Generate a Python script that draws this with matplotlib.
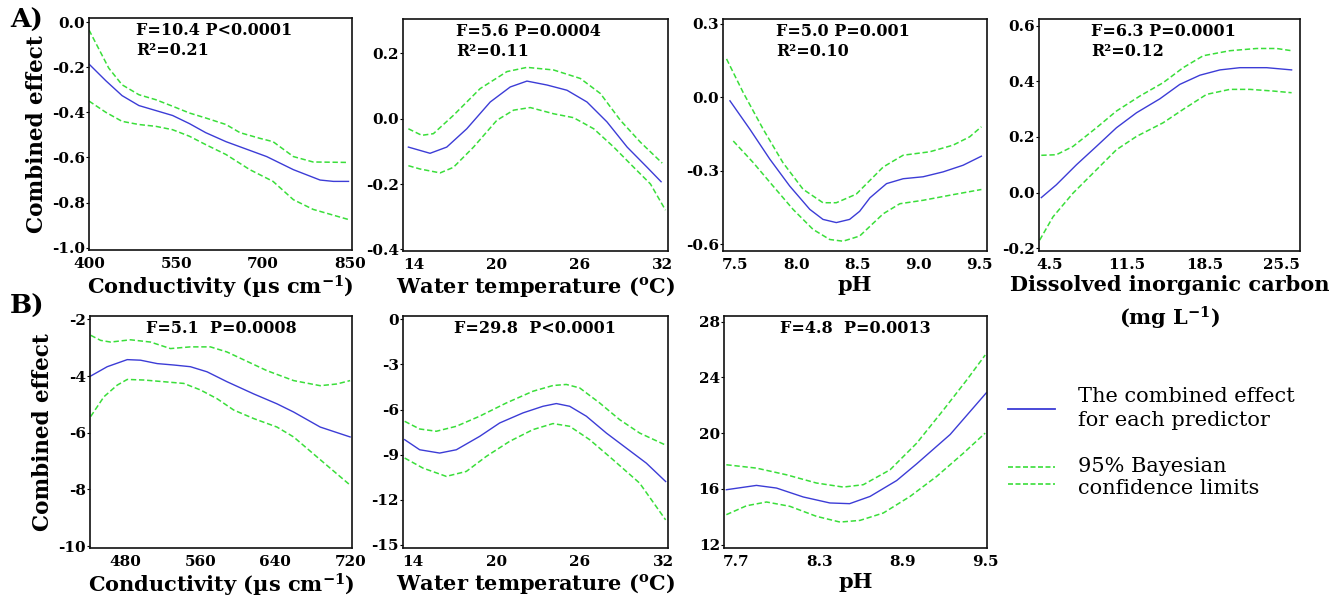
import matplotlib
matplotlib.use("Agg")
import matplotlib.pyplot as plt
from matplotlib.lines import Line2D

plt.rcParams['font.family'] = ['DejaVu Serif']
plt.rcParams['mathtext.fontset'] = 'dejavuserif'
plt.rcParams['axes.unicode_minus'] = False

# ---------------- data ----------------
# A1 conductivity
a1_x_mid = [400, 429, 457, 486, 515, 544, 573, 601, 636, 706, 752, 798, 821, 847]
a1_mid = [-0.186, -0.26, -0.326, -0.37, -0.392, -0.414, -0.45, -0.49, -0.53, -0.596, -0.654, -0.70, -0.706, -0.706]
a1_x_up = [400, 434, 457, 486, 515, 544, 573, 601, 636, 660, 694, 717, 752, 786, 847]
a1_up = [-0.035, -0.204, -0.278, -0.322, -0.344, -0.373, -0.403, -0.425, -0.454, -0.49, -0.515, -0.53, -0.596, -0.62, -0.622]
a1_x_lo = [400, 429, 457, 486, 515, 544, 573, 601, 636, 677, 717, 752, 786, 847]
a1_lo = [-0.35, -0.40, -0.44, -0.454, -0.462, -0.477, -0.506, -0.543, -0.587, -0.654, -0.706, -0.787, -0.83, -0.875]

# A2 water temperature
a2_x_mid = [13.59, 15.16, 16.37, 17.82, 19.52, 20.97, 22.18, 23.63, 25.08, 26.53, 27.98, 29.44, 30.89, 31.9]
a2_mid = [-0.087, -0.106, -0.087, -0.031, 0.051, 0.097, 0.115, 0.103, 0.087, 0.051, -0.01, -0.087, -0.149, -0.193]
a2_x_up = [13.59, 14.56, 15.4, 16.85, 18.79, 20.73, 22.18, 24.11, 26.05, 27.5, 28.95, 30.4, 31.98]
a2_up = [-0.031, -0.051, -0.046, 0.010, 0.092, 0.144, 0.157, 0.149, 0.123, 0.077, -0.005, -0.072, -0.136]
a2_x_lo = [13.59, 14.43, 15.89, 16.85, 18.31, 20.0, 21.21, 22.42, 24.11, 25.56, 27.02, 28.47, 29.92, 31.13, 32.22]
a2_lo = [-0.144, -0.154, -0.166, -0.149, -0.087, -0.005, 0.026, 0.034, 0.015, 0.003, -0.031, -0.087, -0.149, -0.2, -0.28]

# A3 pH
a3_x_mid = [7.457, 7.62, 7.783, 7.946, 8.11, 8.218, 8.327, 8.436, 8.518, 8.602, 8.738, 8.874, 9.037, 9.201, 9.364, 9.514]
a3_mid = [-0.014, -0.13, -0.252, -0.362, -0.457, -0.498, -0.511, -0.498, -0.465, -0.41, -0.352, -0.332, -0.324, -0.304, -0.277, -0.24]
a3_x_up = [7.429, 7.565, 7.729, 7.89, 8.055, 8.218, 8.327, 8.49, 8.711, 8.874, 9.092, 9.282, 9.418, 9.514]
a3_up = [0.157, 0.020, -0.13, -0.266, -0.375, -0.43, -0.43, -0.395, -0.284, -0.236, -0.222, -0.195, -0.161, -0.12]
a3_x_lo = [7.484, 7.647, 7.81, 7.973, 8.137, 8.273, 8.382, 8.518, 8.711, 8.847, 9.037, 9.282, 9.514]
a3_lo = [-0.178, -0.266, -0.362, -0.457, -0.539, -0.58, -0.587, -0.566, -0.475, -0.434, -0.42, -0.397, -0.376]

# A4 dissolved inorganic carbon
a4_x_mid = [3.74, 5.1, 6.92, 8.73, 10.54, 12.36, 14.47, 16.28, 18.1, 19.91, 21.72, 24.14, 26.4]
a4_mid = [-0.018, 0.028, 0.1, 0.166, 0.233, 0.287, 0.337, 0.389, 0.422, 0.441, 0.449, 0.449, 0.441]
a4_x_up = [3.74, 5.1, 6.61, 8.73, 10.54, 12.66, 14.77, 16.58, 18.4, 20.81, 23.23, 25.04, 26.4]
a4_up = [0.134, 0.136, 0.166, 0.233, 0.293, 0.347, 0.395, 0.449, 0.492, 0.51, 0.518, 0.518, 0.51]
a4_x_lo = [3.59, 4.8, 6.61, 8.73, 10.54, 12.36, 14.77, 16.58, 18.7, 20.81, 22.63, 24.74, 26.4]
a4_lo = [-0.171, -0.087, -0.002, 0.082, 0.154, 0.202, 0.251, 0.299, 0.353, 0.371, 0.371, 0.365, 0.359]

# B1 conductivity
b1_x_mid = [442.7, 460.4, 481.8, 496, 513.8, 531.5, 549.3, 567.1, 588.4, 616.9, 641.8, 659.6, 688, 720]
b1_mid = [-4.0, -3.67, -3.42, -3.44, -3.56, -3.61, -3.67, -3.85, -4.2, -4.63, -4.98, -5.27, -5.80, -6.15]
b1_x_up = [442.7, 453.3, 464, 485.3, 506.7, 528, 549.3, 570.7, 588.4, 631.1, 659.6, 688, 705.8, 720]
b1_up = [-2.56, -2.74, -2.80, -2.72, -2.80, -3.03, -2.97, -2.97, -3.15, -3.81, -4.16, -4.34, -4.28, -4.16]
b1_x_lo = [442.7, 456.9, 471.1, 481.8, 499.6, 520.9, 542.2, 560, 577.8, 595.6, 616.9, 641.8, 659.6, 684.4, 720]
b1_lo = [-5.43, -4.73, -4.32, -4.12, -4.14, -4.2, -4.26, -4.49, -4.8, -5.2, -5.5, -5.8, -6.15, -6.85, -7.85]

# B2 water temperature
b2_x_mid = [13.4, 14.48, 15.92, 17.12, 18.8, 20.24, 21.92, 23.36, 24.32, 25.28, 26.48, 27.92, 29.36, 30.8, 32.19]
b2_mid = [-8.0, -8.67, -8.89, -8.67, -7.78, -6.89, -6.22, -5.78, -5.6, -5.78, -6.44, -7.56, -8.56, -9.56, -10.78]
b2_x_up = [13.4, 14.48, 15.68, 17.12, 18.8, 20.72, 22.64, 24.08, 25.04, 26.0, 27.44, 28.88, 30.32, 32.12]
b2_up = [-6.78, -7.29, -7.44, -7.11, -6.44, -5.56, -4.78, -4.4, -4.33, -4.56, -5.56, -6.67, -7.56, -8.33]
b2_x_lo = [13.4, 14.72, 16.4, 17.84, 19.28, 20.96, 22.64, 24.08, 25.28, 26.72, 28.4, 30.32, 32.19]
b2_lo = [-9.22, -9.89, -10.44, -10.11, -9.11, -8.11, -7.33, -6.93, -7.11, -8.0, -9.33, -10.89, -13.33]

# B3 pH
b3_x_mid = [7.627, 7.845, 7.99, 8.184, 8.377, 8.52, 8.668, 8.861, 9.006, 9.248, 9.51]
b3_mid = [15.94, 16.25, 16.06, 15.42, 14.99, 14.94, 15.46, 16.6, 17.8, 19.9, 22.89]
b3_x_up = [7.627, 7.845, 8.063, 8.28, 8.474, 8.619, 8.813, 9.006, 9.2, 9.369, 9.502]
b3_up = [17.73, 17.49, 17.01, 16.42, 16.13, 16.3, 17.37, 19.28, 21.67, 23.82, 25.6]
b3_x_lo = [7.627, 7.773, 7.918, 8.087, 8.28, 8.45, 8.595, 8.764, 8.958, 9.151, 9.345, 9.502]
b3_lo = [14.15, 14.79, 15.06, 14.75, 14.03, 13.62, 13.74, 14.27, 15.46, 16.9, 18.57, 20.0]

panels = [
    dict(mid=(a1_x_mid, a1_mid), up=(a1_x_up, a1_up), lo=(a1_x_lo, a1_lo),
         xt=[400, 550, 700, 850], xtl=['400', '550', '700', '850'],
         yt=[0.0, -0.2, -0.4, -0.6, -0.8, -1.0], ytl=['0.0', '-0.2', '-0.4', '-0.6', '-0.8', '-1.0'],
         xl=(400, 853), yl=(-1.01, 0.018),
         xlabel=r'Conductivity (µs cm$^{\mathbf{-1}}$)',
         note=['F=10.4 P<0.0001', 'R²=0.21'], pos=[89, 18, 263, 232]),
    dict(mid=(a2_x_mid, a2_mid), up=(a2_x_up, a2_up), lo=(a2_x_lo, a2_lo),
         xt=[14, 20, 26, 32], xtl=['14', '20', '26', '32'],
         yt=[-0.4, -0.2, 0.0, 0.2], ytl=['-0.4', '-0.2', '0.0', '0.2'],
         xl=(13.2, 32.4), yl=(-0.405, 0.305),
         xlabel=r'Water temperature ($^{\mathbf{o}}$C)',
         note=['F=5.6 P=0.0004', 'R²=0.11'], pos=[403, 19, 265, 232]),
    dict(mid=(a3_x_mid, a3_mid), up=(a3_x_up, a3_up), lo=(a3_x_lo, a3_lo),
         xt=[7.5, 8.0, 8.5, 9.0, 9.5], xtl=['7.5', '8.0', '8.5', '9.0', '9.5'],
         yt=[-0.6, -0.3, 0.0, 0.3], ytl=['-0.6', '-0.3', '0.0', '0.3'],
         xl=(7.40, 9.56), yl=(-0.627, 0.32),
         xlabel='pH',
         note=['F=5.0 P=0.001', 'R²=0.10'], pos=[723, 19, 264, 232]),
    dict(mid=(a4_x_mid, a4_mid), up=(a4_x_up, a4_up), lo=(a4_x_lo, a4_lo),
         xt=[4.5, 11.5, 18.5, 25.5], xtl=['4.5', '11.5', '18.5', '25.5'],
         yt=[-0.2, 0.0, 0.2, 0.4, 0.6], ytl=['-0.2', '0.0', '0.2', '0.4', '0.6'],
         xl=(3.53, 27.16), yl=(-0.21, 0.624),
         xlabel='Dissolved inorganic carbon\n' + r'(mg L$^{\mathbf{-1}}$)',
         note=['F=6.3 P=0.0001', 'R²=0.12'], pos=[1039, 19, 261, 232]),
    dict(mid=(b1_x_mid, b1_mid), up=(b1_x_up, b1_up), lo=(b1_x_lo, b1_lo),
         xt=[480, 560, 640, 720], xtl=['480', '560', '640', '720'],
         yt=[-10, -8, -6, -4, -2], ytl=['-10', '-8', '-6', '-4', '-2'],
         xl=(442, 722), yl=(-10.07, -1.88),
         xlabel=r'Conductivity (µs cm$^{\mathbf{-1}}$)',
         note=['F=5.1  P=0.0008'], pos=[90, 316, 262, 232]),
    dict(mid=(b2_x_mid, b2_mid), up=(b2_x_up, b2_up), lo=(b2_x_lo, b2_lo),
         xt=[14, 20, 26, 32], xtl=['14', '20', '26', '32'],
         yt=[-15, -12, -9, -6, -3, 0], ytl=['-15', '-12', '-9', '-6', '-3', '0'],
         xl=(13.28, 32.36), yl=(-15.2, 0.22),
         xlabel=r'Water temperature ($^{\mathbf{o}}$C)',
         note=['F=29.8  P<0.0001'], pos=[403, 316, 265, 232]),
    dict(mid=(b3_x_mid, b3_mid), up=(b3_x_up, b3_up), lo=(b3_x_lo, b3_lo),
         xt=[7.7, 8.3, 8.9, 9.5], xtl=['7.7', '8.3', '8.9', '9.5'],
         yt=[12, 16, 20, 24, 28], ytl=['12', '16', '20', '24', '28'],
         xl=(7.61, 9.515), yl=(11.76, 28.4),
         xlabel='pH',
         note=['F=4.8  P=0.0013'], pos=[724, 316, 263, 232]),
]

BLUE = '#3c3cd6'
GREEN = '#3ade3a'
W, H = 1340, 598

fig = plt.figure(figsize=(13.4, 5.98), dpi=100)

for i, p in enumerate(panels):
    l, t, w, h = p['pos']
    ax = fig.add_axes([l / W, 1 - (t + h) / H, w / W, h / H])
    ax.plot(*p['mid'], color=BLUE, lw=1.0)
    ax.plot(*p['up'], color=GREEN, lw=1.1, ls=(0, (3.5, 1.8)))
    ax.plot(*p['lo'], color=GREEN, lw=1.1, ls=(0, (3.5, 1.8)))
    ax.set_xlim(*p['xl'])
    ax.set_ylim(*p['yl'])
    ax.set_xticks(p['xt'])
    ax.set_xticklabels(p['xtl'], fontsize=11, fontweight='bold')
    ax.set_yticks(p['yt'])
    ax.set_yticklabels(p['ytl'], fontsize=11, fontweight='bold')
    ax.tick_params(axis='x', length=0, pad=5)
    ax.tick_params(axis='y', length=2.5, width=0.8, pad=0.5)
    for s in ax.spines.values():
        s.set_linewidth(1.2)
        s.set_color('#111111')
    ax.set_xlabel(p['xlabel'], fontsize=15, fontweight='bold', labelpad=2,
                  linespacing=1.5)
    if i < 4:
        xo = 0.18 if i == 0 else 0.2
        ax.text(xo, 0.948, p['note'][0], transform=ax.transAxes,
                fontsize=11.5, fontweight='bold', ha='left', va='center')
        ax.text(xo, 0.862, p['note'][1], transform=ax.transAxes,
                fontsize=11.5, fontweight='bold', ha='left', va='center')
    else:
        ax.text(0.5, 0.945, p['note'][0], transform=ax.transAxes,
                fontsize=11.5, fontweight='bold', ha='center', va='center')
    if i in (0, 4):
        ax.set_ylabel('Combined effect', fontsize=15.5, fontweight='bold', labelpad=3)

fig.text(10 / W, 1 - 20 / H, 'A)', fontsize=19, fontweight='bold', ha='left', va='center')
fig.text(10 / W, 1 - 306 / H, 'B)', fontsize=19, fontweight='bold', ha='left', va='center')

# legend
fig.add_artist(Line2D([1008 / W, 1055 / W], [1 - 409 / H, 1 - 409 / H],
                      transform=fig.transFigure, color=BLUE, lw=1.3))
fig.add_artist(Line2D([1008 / W, 1055 / W], [1 - 467 / H, 1 - 467 / H],
                      transform=fig.transFigure, color=GREEN, lw=1.2, ls=(0, (3, 1.5))))
fig.add_artist(Line2D([1008 / W, 1055 / W], [1 - 484 / H, 1 - 484 / H],
                      transform=fig.transFigure, color=GREEN, lw=1.2, ls=(0, (3, 1.5))))
for txt, y in [('The combined effect', 397), ('for each predictor', 421),
               ('95% Bayesian', 466), ('confidence limits', 488)]:
    fig.text(1078 / W, 1 - y / H, txt, fontsize=15, ha='left', va='center')

fig.savefig('out.png', dpi=100, facecolor='white')
